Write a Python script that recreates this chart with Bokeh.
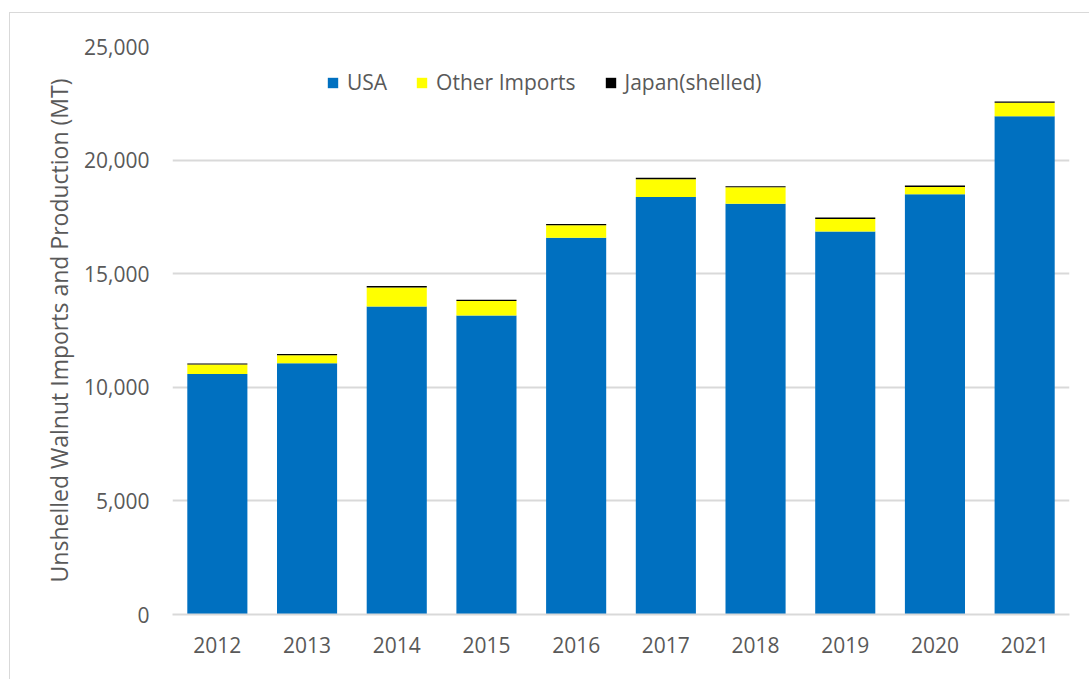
from bokeh.plotting import figure
from bokeh.models import FactorRange, Legend, LegendItem, NumeralTickFormatter, FixedTicker
from bokeh.embed import file_html
from bokeh.resources import INLINE

years = ["2012", "2013", "2014", "2015", "2016", "2017", "2018", "2019", "2020", "2021"]
usa = [10580, 11060, 13560, 13160, 16580, 18380, 18080, 16860, 18500, 21930]
other_imports = [420, 350, 830, 640, 550, 780, 730, 550, 320, 590]
japan_shelled = [50, 60, 70, 50, 60, 60, 40, 60, 60, 60]
series_names = ["USA", "Other Imports", "Japan(shelled)"]
series_colors = ["#0070C0", "#FFFF00", "#000000"]
y_ticks = [0, 5000, 10000, 15000, 20000, 25000]

FONT = "Open Sans"
TXT = "#595959"
GRID = "#D9D9D9"

data = {"year": years, "USA": usa, "Other Imports": other_imports, "Japan(shelled)": japan_shelled}

p = figure(
    x_range=FactorRange(*years, range_padding=0),
    y_range=(0, 25000),
    width=1080, height=667,
    output_backend="svg", toolbar_location=None,
    min_border_left=162, min_border_right=21, min_border_top=33, min_border_bottom=66,
    styles={"border-left": "1px solid #D9D9D9", "border-top": "1px solid #D9D9D9",
            "margin-left": "9px", "margin-top": "12px"},
)
p.outline_line_color = None

renderers = p.vbar_stack(series_names, x="year", width=0.67, source=data,
                         color=series_colors, line_color=None)

p.yaxis.ticker = FixedTicker(ticks=y_ticks)
p.yaxis.formatter = NumeralTickFormatter(format="0,0")
p.yaxis.axis_label = "Unshelled Walnut Imports and Production (MT)"
p.yaxis.axis_line_color = None
p.yaxis.major_tick_line_color = None
p.yaxis.minor_tick_line_color = None
p.yaxis.major_label_standoff = 17
p.yaxis.axis_label_standoff = 6

p.xaxis.axis_line_color = GRID
p.xaxis.axis_line_width = 2
p.xaxis.major_tick_line_color = None
p.xaxis.minor_tick_line_color = None
p.xaxis.major_label_standoff = 16

for ax in (p.xaxis, p.yaxis):
    ax.major_label_text_font = FONT
    ax.major_label_text_font_size = "21px"
    ax.major_label_text_color = TXT
    ax.axis_label_text_font = FONT
    ax.axis_label_text_color = TXT
    ax.axis_label_text_font_style = "normal"
p.yaxis.axis_label_text_font_size = "23px"

p.xgrid.grid_line_color = None
p.ygrid.grid_line_color = GRID
p.ygrid.grid_line_width = 2

legend = Legend(
    items=[LegendItem(label=n, renderers=[r]) for n, r in zip(series_names, renderers)],
    orientation="horizontal",
    location=(154, 518),
    border_line_color=None,
    background_fill_alpha=0,
    padding=0, margin=0, spacing=28,
    glyph_width=13, glyph_height=13, label_standoff=8,
    label_text_font=FONT, label_text_font_size="21px", label_text_color=TXT,
)
p.add_layout(legend, "center")

open("out.html", "w").write(file_html(p, INLINE))
